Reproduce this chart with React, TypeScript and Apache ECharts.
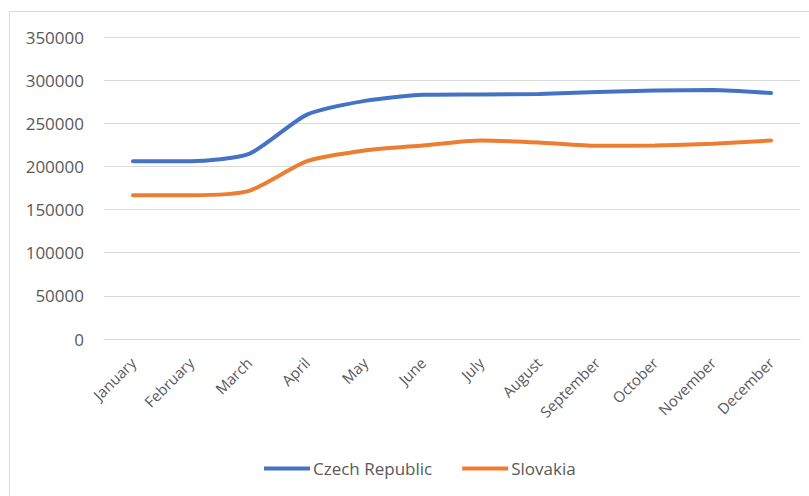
import React, { useEffect, useRef } from "react";
import * as echarts from "echarts";

const months = [
  "January", "February", "March", "April", "May", "June",
  "July", "August", "September", "October", "November", "December",
];
const czechRepublic = [206000, 206000, 214500, 260000, 276000, 283000, 283400, 283900, 286200, 288000, 288500, 285000];
const slovakia = [166700, 166700, 171700, 206100, 218500, 224300, 230000, 227700, 223900, 224300, 226200, 230000];
const seriesNames = ["Czech Republic", "Slovakia"];
const yTicks = { min: 0, max: 350000, interval: 50000 };

export default function App() {
  const ref = useRef<HTMLDivElement>(null);
  useEffect(() => {
    if (!ref.current) return;
    const chart = echarts.init(ref.current, undefined, { renderer: "svg" });
    const font = "'Open Sans', 'Noto Sans', sans-serif";
    chart.setOption({
      animation: false,
      backgroundColor: "#ffffff",
      textStyle: { fontFamily: font },
      graphic: [
        {
          type: "rect",
          shape: { x: 9.5, y: 11.5, width: 830, height: 520 },
          style: { fill: "none", stroke: "#D9D9D9", lineWidth: 1 },
          silent: true,
        },
      ],
      grid: { left: 104, right: 9, top: 37, bottom: 157, containLabel: false },
      legend: {
        left: 259,
        top: 455,
        icon: "rect",
        itemWidth: 46,
        itemHeight: 4,
        itemGap: 30,
        textStyle: { color: "#595959", fontSize: 17, fontFamily: font, padding: [0, 0, 0, -2] },
        data: seriesNames,
      },
      xAxis: {
        type: "category",
        data: months,
        boundaryGap: true,
        axisLine: { show: true, lineStyle: { color: "#D9D9D9", width: 1 } },
        axisTick: { show: false },
        axisLabel: {
          rotate: 45,
          color: "#595959",
          fontSize: 15,
          fontFamily: font,
          margin: 21,
          interval: 0,
        },
      },
      yAxis: {
        type: "value",
        min: yTicks.min,
        max: yTicks.max,
        interval: yTicks.interval,
        axisLine: { show: false },
        axisTick: { show: false },
        splitLine: { lineStyle: { color: "#D9D9D9", width: 1 } },
        axisLabel: {
          color: "#595959",
          fontSize: 17,
          fontFamily: font,
          margin: 20,
          formatter: (v: number) => String(v),
        },
      },
      series: [
        {
          name: seriesNames[0],
          type: "line",
          data: czechRepublic,
          smooth: 0.22,
          showSymbol: false,
          symbol: "none",
          lineStyle: { color: "#4472C4", width: 4, cap: "round" },
          itemStyle: { color: "#4472C4" },
        },
        {
          name: seriesNames[1],
          type: "line",
          data: slovakia,
          smooth: 0.22,
          showSymbol: false,
          symbol: "none",
          lineStyle: { color: "#ED7D31", width: 4, cap: "round" },
          itemStyle: { color: "#ED7D31" },
        },
      ],
    });
    return () => chart.dispose();
  }, []);
  return (
    <div
      ref={ref}
      style={{ position: "fixed", left: 0, top: 0, width: 809, height: 496 }}
    />
  );
}
